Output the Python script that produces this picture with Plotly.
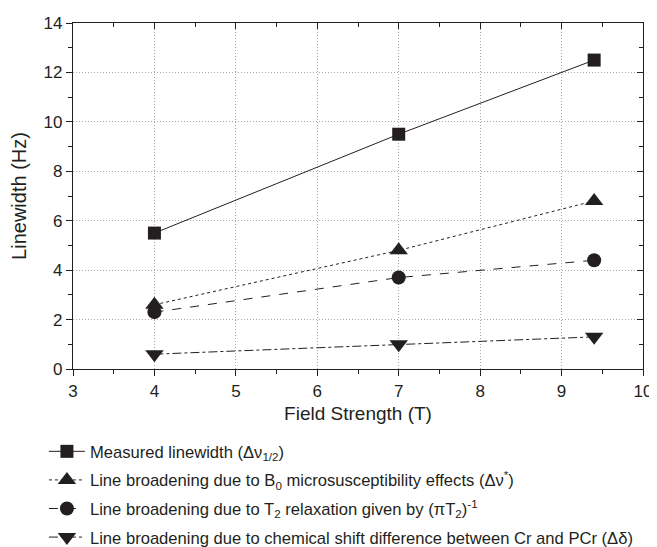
import plotly.graph_objects as go

field = [4, 7, 9.4]
measured = [5.5, 9.5, 12.5]
b0_broadening = [2.6, 4.8, 6.8]
t2_broadening = [2.3, 3.7, 4.4]
chem_shift = [0.6, 1.0, 1.3]

names = [
    "Measured linewidth (Δν<sub>1/2</sub>)",
    "Line broadening due to B<sub>0</sub> microsusceptibility effects (Δν<sup>*</sup>)",
    "Line broadening due to T<sub>2</sub> relaxation given by (πT<sub>2</sub>)<sup>-1</sup>",
    "Line broadening due to chemical shift difference between Cr and PCr (Δδ)",
]
series = [measured, b0_broadening, t2_broadening, chem_shift]
symbols = ["square", "triangle-up", "circle", "triangle-down"]
sizes = [13, 16, 14, 16]
dashes = ["solid", "dot", "dash", "dashdot"]

FONT = "Arial, Liberation Sans, sans-serif"
INK = "#231f20"

fig = go.Figure()
for i, (nm, ys, sym, sz, dsh) in enumerate(zip(names, series, symbols, sizes, dashes)):
    fig.add_trace(go.Scatter(
        x=field, y=ys, name=nm, mode="lines+markers",
        line=dict(color=INK, width=1, dash=dsh),
        marker=dict(symbol=sym, size=sz, color=INK),
        legendgroup=f"g{i}",
    ))

# overlay axes for inward ticks on top/right
fig.add_trace(go.Scatter(x=[], y=[], xaxis="x2", yaxis="y2", showlegend=False, hoverinfo="skip"))

axis_common = dict(showline=True, linecolor=INK, linewidth=1.2, zeroline=False,
                   tickfont=dict(family=FONT, size=17, color=INK), tickcolor=INK,
                   automargin=False)

# page body has an 8px default margin, so the figure is sized to fit the window
fig.update_layout(
    width=649, height=539,
    margin=dict(l=65, r=14, t=15, b=178, autoexpand=False),
    plot_bgcolor="white", paper_bgcolor="white",
    font=dict(family=FONT, color=INK),
    xaxis=dict(range=[3, 10], dtick=1, ticks="outside", ticklen=6,
               showgrid=True, gridcolor="#a8a8a8", griddash="1px,2px", gridwidth=1,
               minor=dict(ticks="outside", dtick=0.5, ticklen=4, tickcolor=INK, showgrid=False),
               title=dict(text="Field Strength (T)", font=dict(family=FONT, size=19, color=INK), standoff=7),
               **axis_common),
    yaxis=dict(range=[0, 14], dtick=2, ticks="outside", ticklen=6,
               showgrid=True, gridcolor="#a8a8a8", griddash="1px,2px", gridwidth=1,
               minor=dict(ticks="outside", dtick=1, ticklen=4, tickcolor=INK, showgrid=False),
               title=dict(text="Linewidth (Hz)", font=dict(family=FONT, size=20, color=INK), standoff=11),
               **axis_common),
    xaxis2=dict(range=[3, 10], dtick=1, overlaying="x", side="top", ticks="inside", ticklen=6,
                showticklabels=False, showgrid=False,
                minor=dict(ticks="inside", dtick=0.5, ticklen=4, tickcolor=INK),
                **axis_common),
    yaxis2=dict(range=[0, 14], dtick=2, overlaying="y", side="right", ticks="inside", ticklen=6,
                showticklabels=False, showgrid=False,
                minor=dict(ticks="inside", dtick=1, ticklen=4, tickcolor=INK),
                **axis_common),
    legend=dict(x=-0.051, y=-0.188, xanchor="left", yanchor="top",
                font=dict(family=FONT, size=16.6, color=INK),
                traceorder="grouped", tracegroupgap=4,
                bgcolor="rgba(0,0,0,0)", itemwidth=36),
    showlegend=True,
)

fig.write_html("out.html")
